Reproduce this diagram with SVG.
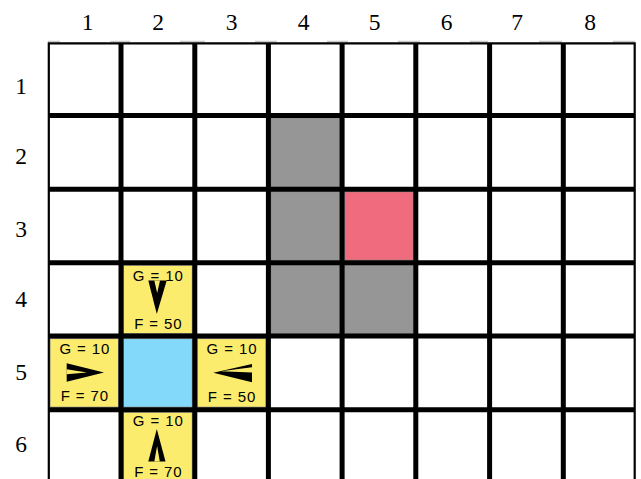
<svg xmlns="http://www.w3.org/2000/svg" width="641" height="479" viewBox="0 0 641 479">
<style>
.lbl{font-family:"Liberation Serif","Times New Roman",serif;font-size:23.5px;fill:#000;text-anchor:middle}
.val{font-family:"Liberation Sans",Arial,sans-serif;font-size:15px;letter-spacing:0.9px;fill:#000;text-anchor:middle}
.cell{stroke:#8a8a8a;stroke-width:1}
.yellow{fill:#fcec6d}
.blue{fill:#82d9f9}
.red{fill:#f06b7e}
.wall{fill:#969696}
.arrow{fill:#000}
.notch{fill:#fcec6d}
.thick{stroke:#000;stroke-width:5;fill:none}
.thin{stroke:#000;stroke-width:2.2;fill:none}
</style>
<rect x="0" y="0" width="641" height="479" fill="#fff"/>
<path d="M48 41.5H60 M110.5 41.5H130 M180 41.5H205 M255 41.5H277 M327 41.5H348 M398 41.5H420 M470 41.5H488 M539 41.5H562 M613 41.5H635" stroke="#c8c8c8" stroke-width="1.5" fill="none"/>
<g id="col-labels">
<text class="lbl" x="87.5" y="29.5">1</text>
<text class="lbl" x="158" y="29.5">2</text>
<text class="lbl" x="231.5" y="29.5">3</text>
<text class="lbl" x="303.5" y="29.5">4</text>
<text class="lbl" x="374.5" y="29.5">5</text>
<text class="lbl" x="446.5" y="29.5">6</text>
<text class="lbl" x="517" y="29.5">7</text>
<text class="lbl" x="590" y="29.5">8</text>
</g>
<g id="row-labels">
<text class="lbl" x="21" y="94.3">1</text>
<text class="lbl" x="21" y="164">2</text>
<text class="lbl" x="21" y="237.3">3</text>
<text class="lbl" x="21" y="306.7">4</text>
<text class="lbl" x="21" y="380">5</text>
<text class="lbl" x="21" y="451.7">6</text>
</g>
<g id="wall-4-2"><rect class="cell wall" x="270.9" y="118" width="68.7" height="68.7"/></g>
<g id="wall-4-3"><rect class="cell wall" x="270.9" y="191.7" width="68.7" height="68.5"/></g>
<g id="wall-4-4"><rect class="cell wall" x="270.9" y="265.2" width="68.7" height="68.4"/></g>
<g id="wall-5-4"><rect class="cell wall" x="344.6" y="265.2" width="68.7" height="68.4"/></g>
<g id="target-5-3"><rect class="cell red" x="344.6" y="191.7" width="68.7" height="68.5"/></g>
<g id="start-2-5"><rect class="cell blue" x="123.5" y="338.6" width="68.8" height="68.6"/></g>
<g id="open-2-4">
<rect class="cell yellow" x="123.5" y="265.2" width="68.8" height="68.4"/>
<polygon class="arrow" points="148.3,280.5 166.7,280.5 156.8,314"/>
<polygon class="notch" points="154.3,280.5 160,280.5 157.2,293"/>
<text class="val" x="158.3" y="280.5">G = 10</text>
<text class="val" x="158.3" y="329.3">F = 50</text>
</g>
<g id="open-1-5">
<rect class="cell yellow" x="50" y="338.6" width="68.5" height="68.6"/>
<polygon class="arrow" points="66.7,363.3 66.7,381.7 104,372.5"/>
<polygon class="notch" points="66.7,369.3 66.7,374.3 87,372.5"/>
<text class="val" x="84.9" y="354.4">G = 10</text>
<text class="val" x="84.9" y="401">F = 70</text>
</g>
<g id="open-3-5">
<rect class="cell yellow" x="197.3" y="338.6" width="68.6" height="68.6"/>
<polygon class="arrow" points="213.3,372.7 252,364 252,382.3"/>
<polygon class="notch" points="252,367.2 252,372.4 221,371.3"/>
<text class="val" x="232" y="354.4">G = 10</text>
<text class="val" x="232" y="401.5">F = 50</text>
</g>
<g id="open-2-6">
<rect class="cell yellow" x="123.5" y="412.2" width="68.8" height="70"/>
<polygon class="arrow" points="148.3,461.5 165.5,461.5 156.8,429"/>
<polygon class="notch" points="154.3,461.5 159.8,461.5 157.1,446"/>
<text class="val" x="158.3" y="426">G = 10</text>
<text class="val" x="158.3" y="476.7">F = 70</text>
</g>
<g id="grid">
<path class="thick" d="M121 43.3V479 M194.8 43.3V479 M268.4 43.3V479 M342.1 43.3V479 M415.8 43.3V479 M489.6 43.3V479 M563.3 43.3V479"/>
<path class="thick" d="M48.8 115.5H634.7 M48.8 189.2H634.7 M48.8 262.7H634.7 M48.8 336.1H634.7 M48.8 409.7H634.7"/>
<path class="thin" d="M48.8 479V43.3H634.7V479"/>
</g>
</svg>
